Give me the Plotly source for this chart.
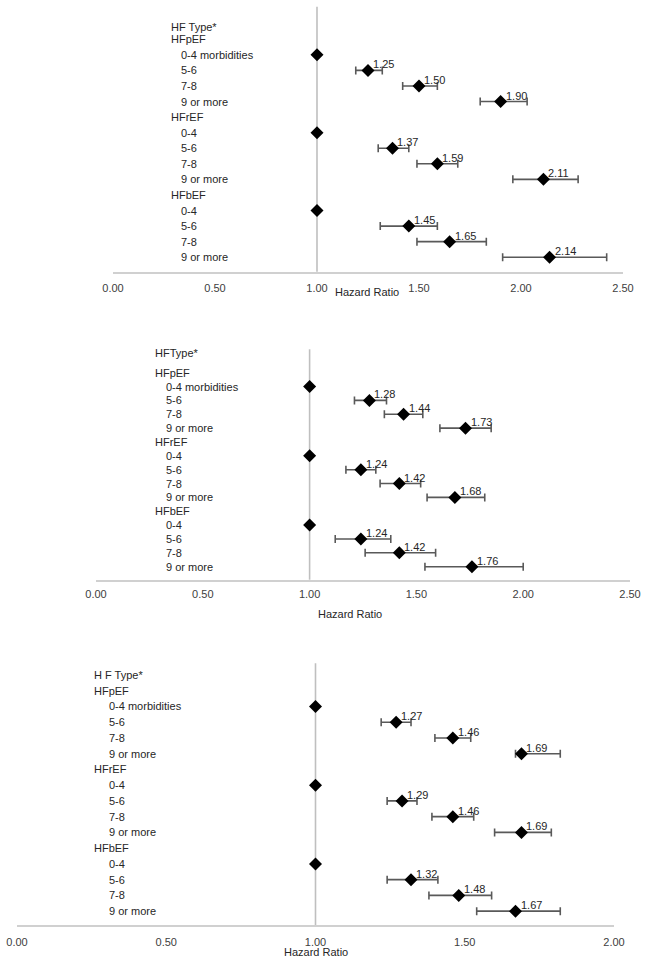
import plotly.graph_objects as go

# ---------------- data ----------------
headers = ["HF Type*", "HFType*", "H F Type*"]
groups = ["HFpEF", "HFrEF", "HFbEF"]
first_subcats = ["0-4 morbidities", "5-6", "7-8", "9 or more"]
other_subcats = ["0-4", "5-6", "7-8", "9 or more"]

p1_hr = [1.00, 1.25, 1.50, 1.90, 1.00, 1.37, 1.59, 2.11, 1.00, 1.45, 1.65, 2.14]
p1_lo = [None, 1.19, 1.42, 1.80, None, 1.30, 1.49, 1.96, None, 1.31, 1.49, 1.91]
p1_hi = [None, 1.32, 1.59, 2.03, None, 1.45, 1.69, 2.28, None, 1.59, 1.83, 2.42]

p2_hr = [1.00, 1.28, 1.44, 1.73, 1.00, 1.24, 1.42, 1.68, 1.00, 1.24, 1.42, 1.76]
p2_lo = [None, 1.21, 1.35, 1.61, None, 1.17, 1.33, 1.55, None, 1.12, 1.26, 1.54]
p2_hi = [None, 1.36, 1.53, 1.85, None, 1.31, 1.52, 1.82, None, 1.38, 1.59, 2.00]

p3_hr = [1.00, 1.27, 1.46, 1.69, 1.00, 1.29, 1.46, 1.69, 1.00, 1.32, 1.48, 1.67]
p3_lo = [None, 1.22, 1.40, 1.67, None, 1.24, 1.39, 1.60, None, 1.24, 1.38, 1.54]
p3_hi = [None, 1.32, 1.52, 1.82, None, 1.34, 1.53, 1.79, None, 1.41, 1.59, 1.82]

x_tick_vals_1 = [0.0, 0.5, 1.0, 1.5, 2.0, 2.5]
x_tick_vals_3 = [0.0, 0.5, 1.0, 1.5, 2.0]
x_title = "Hazard Ratio"

# ---------------- layout config ----------------
FONT = "Liberation Sans Narrow, Arial Narrow, Liberation Sans, Arial, sans-serif"
TXT = "#262626"
FS = 11
panels = [
    dict(hr=p1_hr, lo=p1_lo, hi=p1_hi, ticks=x_tick_vals_1, xr=[0, 2.5],
         xdom=[113 / 648, 623 / 648], ydom=[1 - 271.7 / 960, 1 - 6.7 / 960],
         yr=[15.93, -1.09], head_idx=0.22, gx=0.276, sx=0.324,
         title_x=1.245, title_y=1 - 292 / 960, tick_off=5),
    dict(hr=p2_hr, lo=p2_lo, hi=p2_hi, ticks=x_tick_vals_1, xr=[0, 2.5],
         xdom=[96 / 648, 630 / 648], ydom=[1 - 579.7 / 960, 1 - 349.3 / 960],
         yr=[15.94, -0.69], head_idx=-0.4, gx=0.269, sx=0.318,
         title_x=1.19, title_y=1 - 614 / 960, tick_off=3),
    dict(hr=p3_hr, lo=p3_lo, hi=p3_hi, ticks=x_tick_vals_3, xr=[0, 2.0],
         xdom=[17 / 648, 614 / 648], ydom=[1 - 925.3 / 960, 1 - 663.3 / 960],
         yr=[15.9, -0.74], head_idx=0.0, gx=0.252, sx=0.30,
         title_x=1.0, title_y=1 - 952 / 960, tick_off=5),
]

fig = go.Figure()
annotations = []
shapes = []

for i, p in enumerate(panels):
    n = i + 1
    xa = "x" if n == 1 else f"x{n}"
    ya = "y" if n == 1 else f"y{n}"
    ys, xs, errp, errm = [], [], [], []
    k = 0
    for g in range(3):
        for s in range(4):
            idx = 1 + g * 5 + 1 + s
            hr, lo, hi = p["hr"][k], p["lo"][k], p["hi"][k]
            ys.append(idx)
            xs.append(hr)
            if lo is None:
                errp.append(None); errm.append(None)
            else:
                errp.append(hi - hr); errm.append(hr - lo)
                annotations.append(dict(x=hr, y=idx, xref=xa, yref=ya, text=f"{hr:.2f}",
                                        showarrow=False, xanchor="left", yanchor="middle",
                                        xshift=3, yshift=6,
                                        font=dict(family=FONT, size=FS, color=TXT)))
            k += 1
    fig.add_trace(go.Scatter(
        x=xs, y=ys, xaxis=xa, yaxis=ya, mode="markers",
        marker=dict(symbol="diamond", size=10, color="black"),
        error_x=dict(type="data", symmetric=False, array=errp, arrayminus=errm,
                     color="#595959", thickness=1.6, width=4),
        showlegend=False, cliponaxis=False, hoverinfo="x+y",
    ))
    annotations.append(dict(x=p["gx"], y=p["head_idx"], xref=xa, yref=ya, text=headers[i],
                            showarrow=False, xanchor="left", yanchor="middle",
                            font=dict(family=FONT, size=FS, color=TXT)))
    for g in range(3):
        gi = 1 + g * 5
        annotations.append(dict(x=p["gx"], y=gi, xref=xa, yref=ya, text=groups[g],
                                showarrow=False, xanchor="left", yanchor="middle",
                                font=dict(family=FONT, size=FS, color=TXT)))
        subs = first_subcats if g == 0 else other_subcats
        for s, lab in enumerate(subs):
            annotations.append(dict(x=p["sx"], y=gi + 1 + s, xref=xa, yref=ya, text=lab,
                                    showarrow=False, xanchor="left", yanchor="middle",
                                    font=dict(family=FONT, size=FS, color=TXT)))
    annotations.append(dict(x=p["title_x"], y=p["title_y"], xref=xa, yref="paper",
                            text=x_title, showarrow=False, xanchor="center", yanchor="middle",
                            font=dict(family=FONT, size=FS, color=TXT)))
    shapes.append(dict(type="line", xref=xa, yref=f"{ya} domain", x0=1, x1=1, y0=0, y1=1,
                       line=dict(color="#bfbfbf", width=1.6), layer="below"))

    xkey = "xaxis" if n == 1 else f"xaxis{n}"
    ykey = "yaxis" if n == 1 else f"yaxis{n}"
    fig.layout[xkey] = dict(domain=p["xdom"], range=p["xr"], anchor=ya,
                            tickvals=p["ticks"], tickformat=".2f",
                            showline=True, linecolor="#d0d0d0", linewidth=2,
                            showgrid=False, zeroline=False, automargin=False,
                            ticks="outside", ticklen=p["tick_off"], tickcolor="rgba(0,0,0,0)",
                            tickfont=dict(family=FONT, size=FS, color="#404040"),
                            fixedrange=True)
    fig.layout[ykey] = dict(domain=p["ydom"], range=p["yr"], anchor=xa,
                            showticklabels=False, showgrid=False, zeroline=False,
                            showline=False, fixedrange=True, automargin=False)

fig.update_layout(
    width=648, height=960, margin=dict(l=0, r=0, t=0, b=0, autoexpand=False),
    paper_bgcolor="white", plot_bgcolor="white",
    annotations=annotations, shapes=shapes, showlegend=False,
)

fig.write_html("out.html", config={"displayModeBar": False},
               post_script="document.body.style.margin='0';document.body.style.overflow='hidden';")
